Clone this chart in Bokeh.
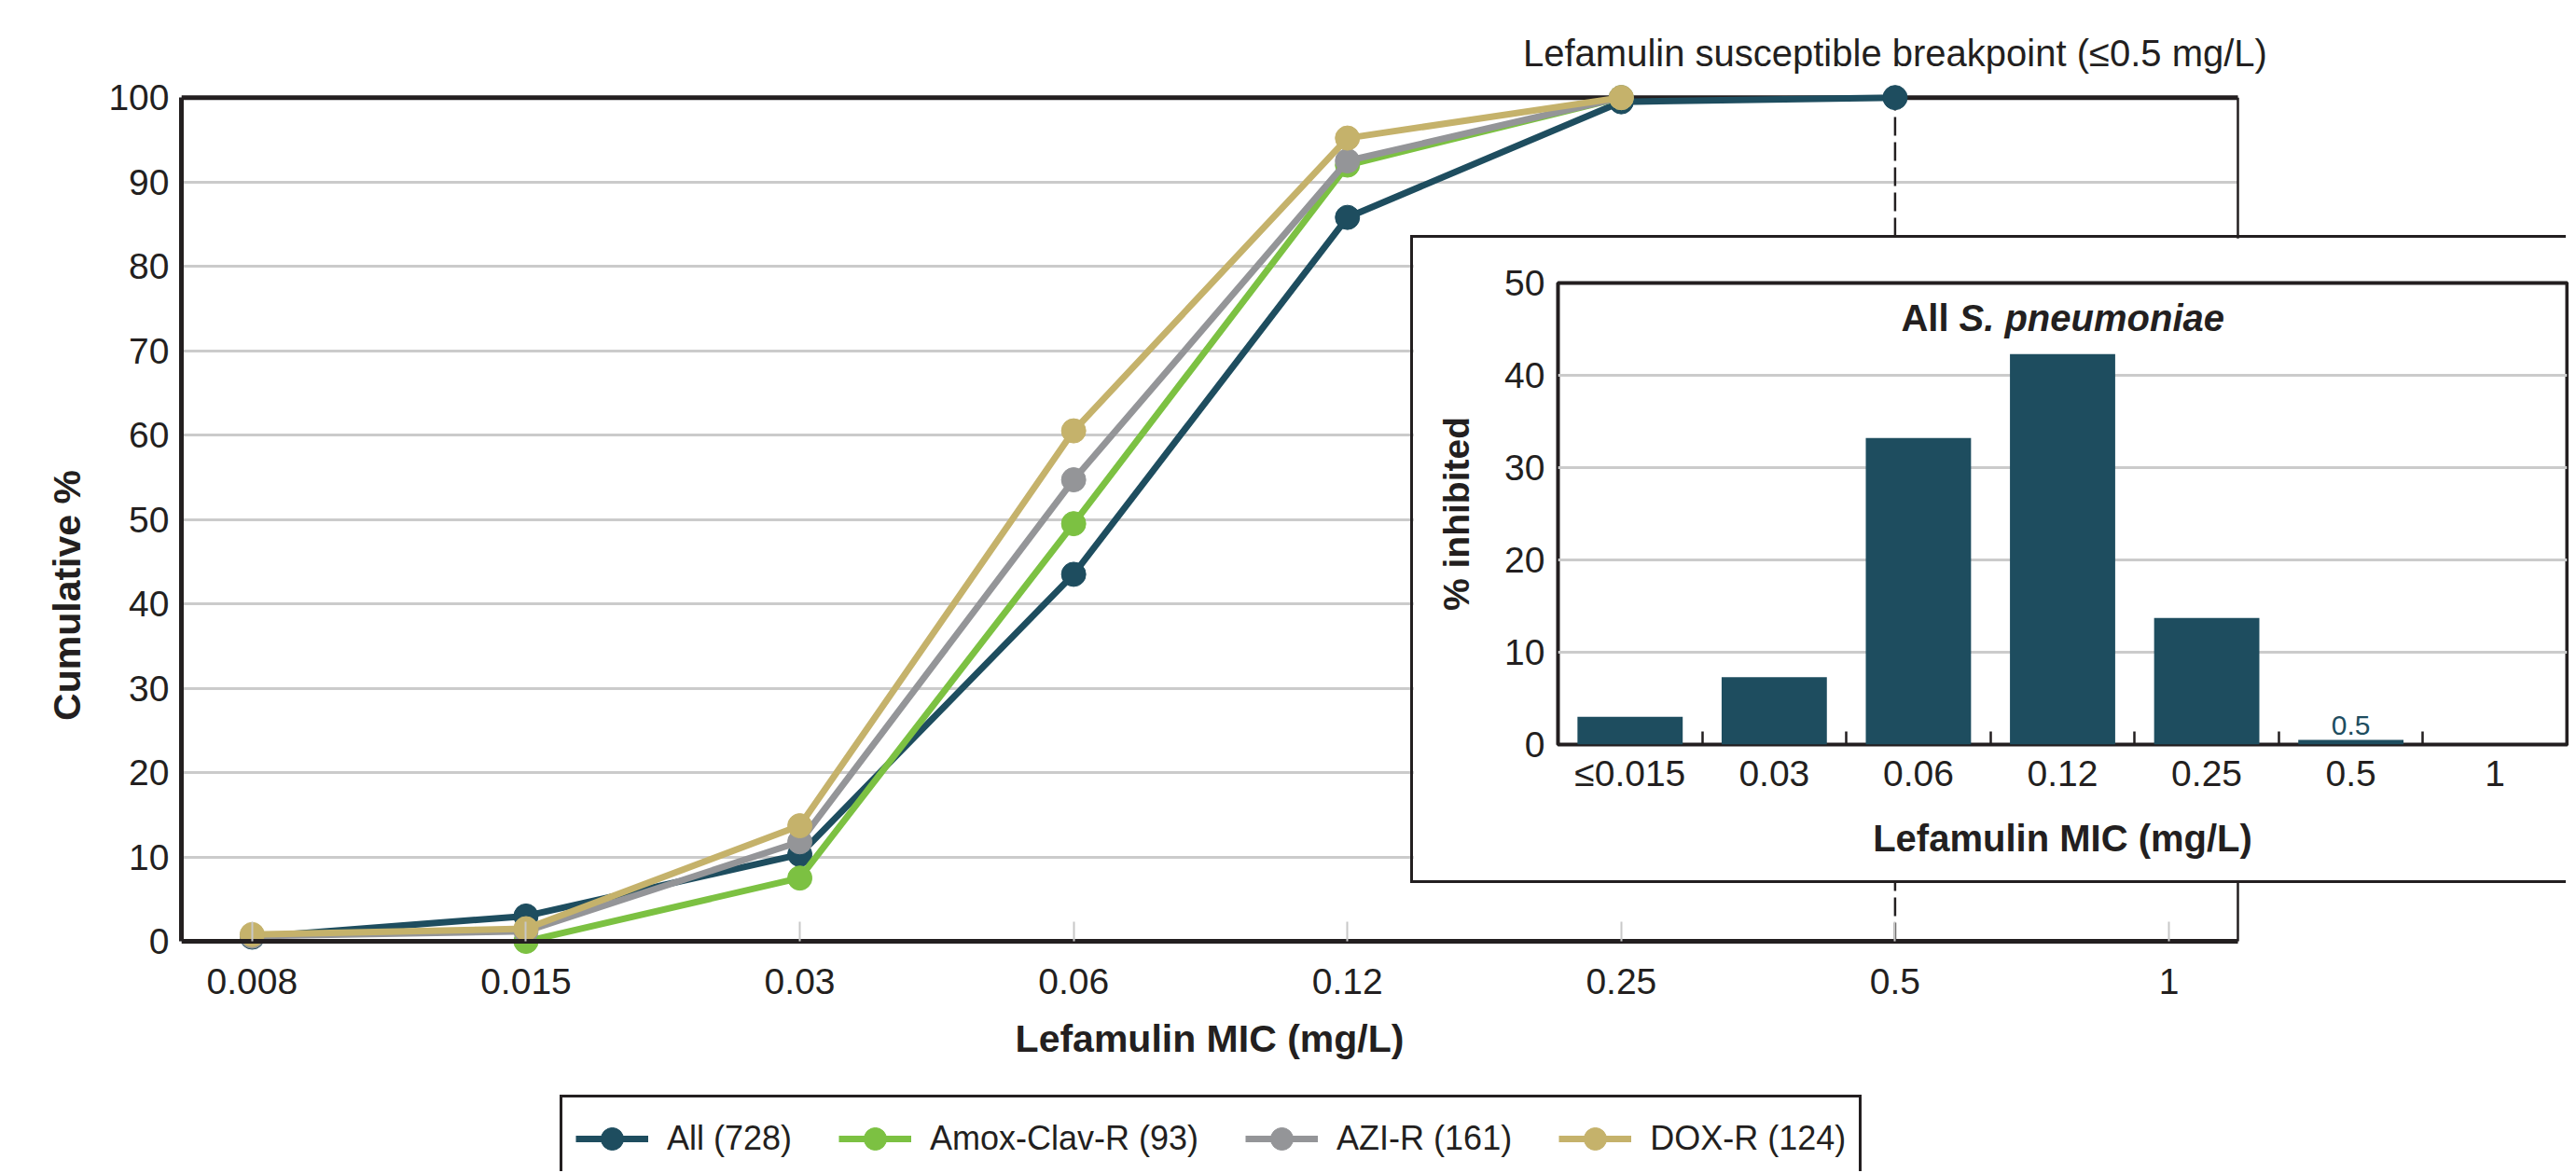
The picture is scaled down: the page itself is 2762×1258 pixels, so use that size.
from bokeh.plotting import figure
from bokeh.models import (ColumnDataSource, FixedTicker, LinearAxis, Range1d,
                          Legend, LegendItem, GridBox, Grid)
from bokeh.core.properties import value
from bokeh.embed import file_html
from bokeh.resources import INLINE

# ---------------- data ----------------
mic_labels = ["0.008", "0.015", "0.03", "0.06", "0.12", "0.25", "0.5", "1"]

all_mics = ["0.008", "0.015", "0.03", "0.06", "0.12", "0.25", "0.5"]
all_cum = [0.5, 3.0, 10.3, 43.5, 85.8, 99.5, 100.0]
amox_mics = ["0.015", "0.03", "0.06", "0.12", "0.25"]
amox_cum = [0.0, 7.5, 49.5, 92.0, 100.0]
azi_mics = ["0.008", "0.015", "0.03", "0.06", "0.12", "0.25"]
azi_cum = [0.6, 1.2, 11.8, 54.7, 92.5, 100.0]
dox_mics = ["0.008", "0.015", "0.03", "0.06", "0.12", "0.25"]
dox_cum = [0.8, 1.5, 13.7, 60.5, 95.2, 100.0]

series_names = ["All (728)", "Amox-Clav-R (93)", "AZI-R (161)", "DOX-R (124)"]
series_colors = ["#1e4d5f", "#7cc142", "#949598", "#c5b26b"]

breakpoint_mic = "0.5"
breakpoint_text = "Lefamulin susceptible breakpoint (\u22640.5 mg/L)"

hist_labels = ["\u22640.015", "0.03", "0.06", "0.12", "0.25", "0.5", "1"]
hist_pct = [3.0, 7.3, 33.2, 42.3, 13.7, 0.5, 0.0]
hist_title_a = "All"
hist_title_b = "S. pneumoniae"

# ---------------- style ----------------
FN = "Liberation Sans"
INK = "#231f20"
GRID = "#cbcbcb"
TEAL = series_colors[0]
TICK_FS = "39px"
TITLE_FS = "41px"

X0, X1 = -0.2585, 7.252      # plot box in category units
Y0, Y1 = 0, 100

# ---------------- main chart ----------------
p = figure(frame_width=2251, frame_height=1236,
           min_border_left=194, min_border_right=309,
           min_border_top=20, min_border_bottom=0,
           x_range=Range1d(X0, 7.4087), y_range=Range1d(-27.29, 109.3),
           x_axis_type=None, y_axis_type=None, title_location=None,
           output_backend="svg", toolbar_location=None,
           outline_line_color=None, background_fill_color="white",
           border_fill_color="white")
if "frame_align" in p.properties():
    p.frame_align = False

yticks = FixedTicker(ticks=list(range(Y0, Y1 + 1, 10)))
if "cross_bounds" in Grid.properties():
    p.add_layout(Grid(dimension=1, ticker=yticks, cross_bounds=(X0, X1),
                      grid_line_color=GRID, grid_line_width=3))
else:
    gy = yticks.ticks
    p.segment(x0=[X0] * len(gy), x1=[X1] * len(gy), y0=gy, y1=gy,
              line_color=GRID, line_width=3, level="underlay")

# plot box: top and right edges
p.segment(x0=[X0], x1=[X1], y0=[Y1], y1=[Y1], line_color=INK, line_width=5)
p.segment(x0=[X1], x1=[X1], y0=[Y0], y1=[Y1], line_color=INK, line_width=2.5)

xax = LinearAxis(ticker=FixedTicker(ticks=list(range(len(mic_labels)))),
                 major_label_overrides={i: s for i, s in enumerate(mic_labels)},
                 fixed_location=0, bounds=(X0, X1),
                 axis_label="Lefamulin MIC (mg/L)",
                 axis_line_color=INK, axis_line_width=5,
                 major_tick_in=21, major_tick_out=0,
                 major_tick_line_color="#c8c8c8", major_tick_line_width=2,
                 minor_tick_line_color=None, minor_tick_out=0, minor_tick_in=0,
                 major_label_standoff=29,
                 major_label_text_font=FN, major_label_text_font_size=TICK_FS,
                 major_label_text_color=INK,
                 axis_label_standoff=22,
                 axis_label_text_font=FN, axis_label_text_font_size=TITLE_FS,
                 axis_label_text_font_style="bold", axis_label_text_color=INK)
p.add_layout(xax, "below")

yax = LinearAxis(ticker=yticks, bounds=(Y0, Y1),
                 axis_label="Cumulative %",
                 axis_line_color=INK, axis_line_width=5,
                 major_tick_in=0, major_tick_out=0, minor_tick_line_color=None,
                 minor_tick_out=0, minor_tick_in=0,
                 major_label_standoff=13,
                 major_label_text_font=FN, major_label_text_font_size=TICK_FS,
                 major_label_text_color=INK,
                 axis_label_standoff=18,
                 axis_label_text_font=FN, axis_label_text_font_size=TITLE_FS,
                 axis_label_text_font_style="bold", axis_label_text_color=INK)
p.add_layout(yax, "left")

bx = mic_labels.index(breakpoint_mic)
p.segment(x0=[bx], y0=[Y0], x1=[bx], y1=[Y1], line_color=INK, line_width=2.5,
          line_dash="20 7")
p.text(x=[bx], y=[Y1], text=[breakpoint_text], y_offset=-48,
       text_align="center", text_baseline="middle",
       text_font=value(FN), text_font_size="40px", text_color=INK)

items = []
for name, color, mics, vals in zip(series_names, series_colors,
                                   [all_mics, amox_mics, azi_mics, dox_mics],
                                   [all_cum, amox_cum, azi_cum, dox_cum]):
    src = ColumnDataSource(dict(x=[mic_labels.index(m) for m in mics], y=vals))
    ln = p.line("x", "y", source=src, line_color=color, line_width=7)
    sc = p.scatter("x", "y", source=src, size=26, fill_color=color, line_color=color)
    items.append(LegendItem(label=name, renderers=[ln, sc]))

legend = Legend(items=items, orientation="horizontal", location=(406, -12),
                label_text_font=FN, label_text_font_size="36px", label_text_color=INK,
                glyph_width=78, glyph_height=60, label_standoff=20, spacing=50,
                padding=14, margin=0,
                border_line_color=INK, border_line_width=3.5, border_line_alpha=1,
                background_fill_color="white", background_fill_alpha=1)
p.add_layout(legend)

# ---------------- inset histogram ----------------
q = figure(frame_width=1082, frame_height=495,
           min_border_left=155, min_border_right=2,
           min_border_top=48, min_border_bottom=146,
           x_range=Range1d(0, len(hist_labels)), y_range=Range1d(0, 50),
           x_axis_type=None, y_axis_type=None, title_location=None,
           output_backend="svg", toolbar_location=None,
           outline_line_color=INK, outline_line_width=4,
           background_fill_color="white", border_fill_color="white")
if "frame_align" in q.properties():
    q.frame_align = False

q.add_layout(Grid(dimension=1, ticker=FixedTicker(ticks=[10, 20, 30, 40]),
                  grid_line_color=GRID, grid_line_width=3))

hx = [i + 0.5 for i in range(len(hist_labels))]
qx = LinearAxis(ticker=FixedTicker(ticks=hx, minor_ticks=list(range(1, len(hist_labels)))),
                major_label_overrides={x: s for x, s in zip(hx, hist_labels)},
                axis_label="Lefamulin MIC (mg/L)",
                axis_line_color=None, major_tick_line_color=None,
                major_tick_in=0, major_tick_out=0,
                minor_tick_in=14, minor_tick_out=0,
                minor_tick_line_color=INK, minor_tick_line_width=2.5,
                major_label_standoff=9,
                major_label_text_font=FN, major_label_text_font_size=TICK_FS,
                major_label_text_color=INK,
                axis_label_standoff=23,
                axis_label_text_font=FN, axis_label_text_font_size="40px",
                axis_label_text_font_style="bold", axis_label_text_color=INK)
q.add_layout(qx, "below")

qy = LinearAxis(ticker=FixedTicker(ticks=list(range(0, 51, 10))),
                axis_label="% inhibited",
                axis_line_color=None, major_tick_line_color=None,
                major_tick_in=0, major_tick_out=0,
                minor_tick_line_color=None, minor_tick_in=0, minor_tick_out=0,
                major_label_standoff=14,
                major_label_text_font=FN, major_label_text_font_size=TICK_FS,
                major_label_text_color=INK,
                axis_label_standoff=27,
                axis_label_text_font=FN, axis_label_text_font_size="39px",
                axis_label_text_font_style="bold", axis_label_text_color=INK)
q.add_layout(qy, "left")

hsrc = ColumnDataSource(dict(x=hx, top=hist_pct))
q.vbar(x="x", top="top", width=0.73, source=hsrc, fill_color=TEAL, line_color=None)

ann_x = [x for x, v in zip(hx, hist_pct) if 0 < v < 1]
ann_y = [v for v in hist_pct if 0 < v < 1]
ann_t = [f"{v:g}" for v in ann_y]
q.text(x=ann_x, y=ann_y, text=ann_t, y_offset=-6, text_align="center",
       text_baseline="bottom", text_font=value(FN), text_font_size="30px",
       text_color=TEAL)

tx = len(hist_labels) / 2
q.text(x=[tx], y=[50], text=[hist_title_a], x_offset=-122, y_offset=37,
       text_align="right", text_baseline="middle", text_font=value(FN),
       text_font_size="40px", text_font_style="bold", text_color=INK)
q.text(x=[tx], y=[50], text=[hist_title_b], x_offset=-111, y_offset=37,
       text_align="left", text_baseline="middle", text_font=value(FN),
       text_font_size="40px", text_font_style="bold italic", text_color=INK)

q.margin = (255, 0, 0, 1515)
q.styles = {"box-shadow": "-3px -3px 0 0 #231f20, -3px 3px 0 0 #231f20"}

root = GridBox(children=[(p, 0, 0), (q, 0, 0)])

open("out.html", "w").write(file_html(root, INLINE))
